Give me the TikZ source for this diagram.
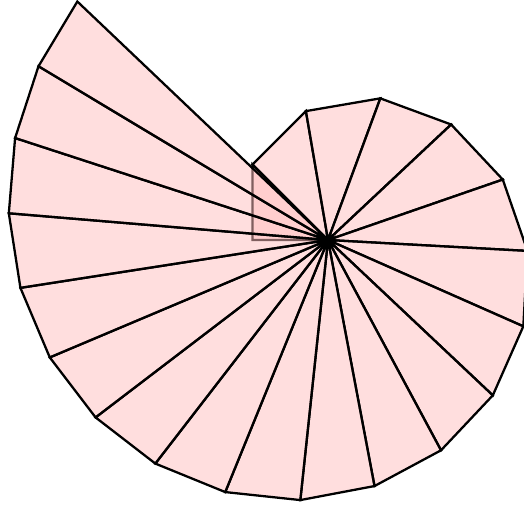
\documentclass[tikz,border=0pt]{standalone}
\usetikzlibrary{calc}
\definecolor{tripink}{RGB}{255,190,190}
\begin{document}
\begin{tikzpicture}[x=0.02cm,y=0.02cm,
  tri/.style={draw=black, line width=1.3pt, fill=tripink, fill opacity=0.5}]
\useasboundingbox (0,0) rectangle (524,505);
\clip (0,0) rectangle (524,505);
\coordinate (c) at (328,265);
\gdef\spang{180}
\foreach \n in {1,...,21}{
  \coordinate (p\n) at ($(c)+(\spang:{75.5*sqrt(\n)})$);
  \pgfmathsetmacro{\spnew}{\spang-atan(1/sqrt(\n))}
  \xdef\spang{\spnew}
}
\foreach \n [evaluate=\n as \m using {int(\n+1)}] in {1,...,20}{
  \filldraw[tri] (c) -- (p\n) -- (p\m) -- cycle;
}
\end{tikzpicture}
\end{document}
